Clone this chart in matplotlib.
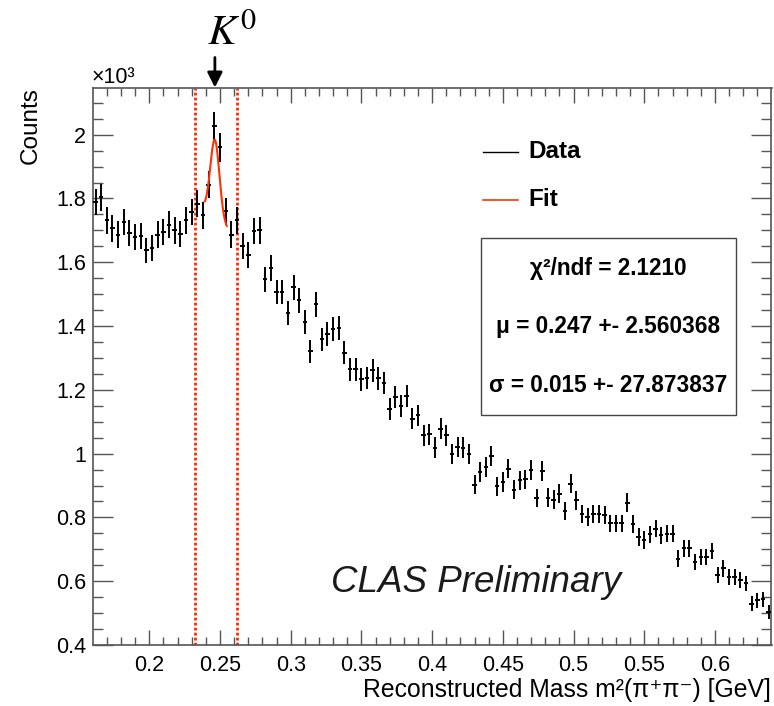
import numpy as np
import matplotlib
matplotlib.use("Agg")
import matplotlib.pyplot as plt
from matplotlib.patches import Rectangle

# ---------------- data ----------------
bin_low = 0.16
bin_width = 0.004
# counts per bin in units of 10^3
counts = [
    1.789, 1.804, 1.731, 1.706, 1.687, 1.727, 1.692, 1.679, 1.682, 1.637,
    1.645, 1.687, 1.695, 1.718, 1.700, 1.689, 1.731, 1.758, 1.783, 1.747,
    1.843, 2.026, 1.960, 1.760, 1.687, 1.731, 1.650, 1.622, 1.697, 1.700,
    1.546, 1.582, 1.507, 1.507, 1.442, 1.522, 1.481, 1.412, 1.321, 1.468,
    1.358, 1.376, 1.392, 1.395, 1.316, 1.264, 1.264, 1.233, 1.238, 1.261,
    1.236, 1.222, 1.140, 1.177, 1.150, 1.181, 1.110, 1.120,
    1.057, 1.061, 1.019, 1.078, 1.057, 1.000, 1.021, 1.019, 1.000, 0.903,
    0.943, 0.958, 0.992, 0.898, 0.911, 0.953, 0.887, 0.916, 0.919, 0.948,
    0.861, 0.946, 0.862, 0.856, 0.875, 0.820, 0.906, 0.854, 0.810, 0.802,
    0.812, 0.812, 0.807, 0.781, 0.781, 0.781, 0.846, 0.779, 0.739, 0.729,
    0.747, 0.765, 0.744, 0.749, 0.749, 0.671, 0.703, 0.703, 0.661, 0.676,
    0.676, 0.695, 0.619, 0.640, 0.614, 0.612, 0.603, 0.593, 0.530, 0.540,
    0.543, 0.504,
]

# fit: gaussian + linear background
fit_mu = 0.2464
fit_sigma = 0.0032
fit_amp = 0.243
fit_bg0 = 1.741
fit_bg1 = -4.1
fit_range = (0.2393, 0.2548)

# displayed fit window (mu +- sigma from stat box)
win_mu = 0.247
win_sigma = 0.015

stat_lines = ["\u03c7\u00b2/ndf = 2.1210",
              "\u03bc = 0.247 +- 2.560368",
              "\u03c3 = 0.015 +- 27.873837"]

# ---------------- figure ----------------
W, H = 774, 706
fig = plt.figure(figsize=(W / 100, H / 100), dpi=100)
plt.rcParams['font.family'] = ['Liberation Sans', 'DejaVu Sans']


def fx(px):
    return px / W


def fy(py):
    return 1 - py / H


ax = fig.add_axes([fx(92.7), fy(645), fx(771.5) - fx(92.7), fy(87.5) - fy(645)])

counts = np.asarray(counts)
xc = bin_low + bin_width * (np.arange(len(counts)) + 0.5)
yerr = np.sqrt(counts * 1000.0) / 1000.0
ax.errorbar(xc, counts, yerr=yerr, xerr=0.0016, fmt='none',
            ecolor='black', elinewidth=1.4, capsize=0, zorder=3)

xf = np.linspace(fit_range[0], fit_range[1], 200)
yf = fit_bg0 + fit_bg1 * (xf - fit_mu) + fit_amp * np.exp(-(xf - fit_mu) ** 2 / (2 * fit_sigma ** 2))
ax.plot(xf, yf, color='#ff3300', lw=1.5, zorder=4)

for xv in (win_mu - win_sigma, win_mu + win_sigma):
    ax.axvline(xv, color='#ff2a00', lw=2.0, linestyle=(0, (1, 0.8)), zorder=2)

ax.set_xlim(0.16, 0.64)
ax.set_ylim(0.4, 2.148)
ax.set_xticks(np.arange(0.2, 0.601, 0.05))
ax.set_xticks(np.arange(0.17, 0.64, 0.01), minor=True)
ax.set_yticks(np.arange(0.4, 2.01, 0.2))
ax.set_yticks(np.arange(0.45, 2.15, 0.05), minor=True)
ax.xaxis.set_major_formatter(matplotlib.ticker.FormatStrFormatter('%g'))
ax.yaxis.set_major_formatter(matplotlib.ticker.FuncFormatter(lambda v, p: '%g' % round(v, 2)))

sc = '#555555'
for s in ax.spines.values():
    s.set_color(sc)
    s.set_linewidth(1.2)
ax.tick_params(axis='both', which='both', direction='in', top=True, right=True,
               color=sc, labelsize=15.5, labelcolor='black')
ax.tick_params(axis='x', which='major', length=11, width=1.0, pad=7)
ax.tick_params(axis='x', which='minor', length=5.8, width=1.0)
ax.tick_params(axis='y', which='major', length=14.4, width=1.0, pad=5)
ax.tick_params(axis='y', which='minor', length=7.2, width=1.0)

# axis titles
fig.text(fx(771), fy(690), "Reconstructed Mass m\u00b2(\u03c0\u207a\u03c0\u207b) [GeV]",
         ha='right', va='center', fontsize=17.8)
fig.text(fx(31), fy(87), "Counts", rotation=90, ha='center', va='top', fontsize=17.5)
fig.text(fx(92), fy(83), "\u00d710\u00b3", ha='left', va='baseline', fontsize=15.5)

# K0 label and arrow
fig.text(fx(232), fy(45), r"$K^0$", ha='center', va='baseline', fontsize=31,
         math_fontfamily='stix')
ax.annotate('', xy=(fit_mu, 1.0), xycoords=('data', 'axes fraction'),
            xytext=(fit_mu, 1.0 + 30 / 557.5), textcoords=('data', 'axes fraction'),
            arrowprops=dict(arrowstyle='-|>,head_length=0.9,head_width=0.45',
                            color='black', lw=2.0, shrinkA=0, shrinkB=0),
            annotation_clip=False)

# legend
fig.add_artist(plt.Line2D([fx(483), fx(518)], [fy(152), fy(152)], color='black', lw=1.0))
fig.add_artist(plt.Line2D([fx(483), fx(518)], [fy(200), fy(200)], color='#ff3300', lw=1.2))
fig.text(fx(528), fy(152), "Data", ha='left', va='center', fontsize=17.5, fontweight='bold')
fig.text(fx(528), fy(200), "Fit", ha='left', va='center', fontsize=17.5, fontweight='bold')

# stat box
fig.add_artist(Rectangle((fx(481), fy(415)), fx(735.7) - fx(481), fy(238.3) - fy(415),
                         transform=fig.transFigure, fill=False, edgecolor='#444444', lw=1.0))
for txt, py in zip(stat_lines, (268, 326, 385)):
    fig.text(fx(608), fy(py), txt, ha='center', va='center', fontsize=16.3, fontweight='bold')

fig.text(fx(476), fy(583), "CLAS Preliminary", ha='center', va='center', fontsize=26.5,
         style='italic', color='#1a1a1a')

fig.savefig('out.png', dpi=100)
